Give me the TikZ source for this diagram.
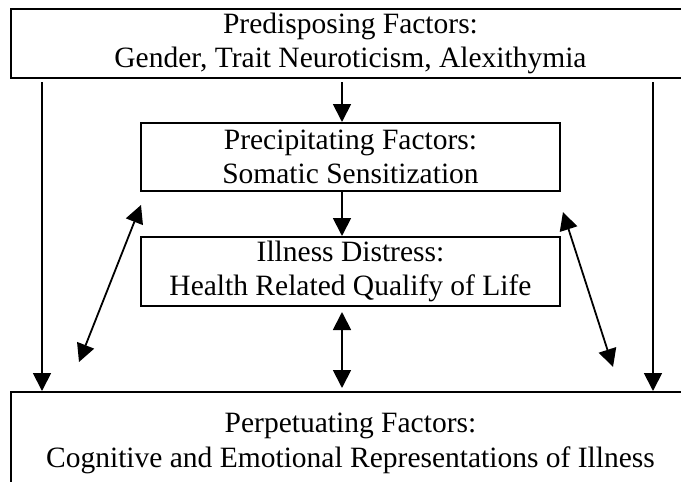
\documentclass[tikz,border=0pt]{standalone}
\usepackage{fontspec}
\setmainfont{Liberation Serif}
\usepackage{tikz}
\usetikzlibrary{positioning,arrows.meta}

\begin{document}
\begin{tikzpicture}[x=1pt, y=-1pt,
  factor/.style={draw, line width=2pt, align=center, inner sep=0pt,
    font=\fontsize{29.5}{34.5}\selectfont},
  link/.style={-{Triangle[length=18pt, width=18pt]}, line width= 1.8pt},
  twoway/.style={{Triangle[length=18pt, width=18pt]}-{Triangle[length=18pt, width=18pt]}, line width= 1.8pt}]

\useasboundingbox (0,0) rectangle (681,482);
\clip (0,0) rectangle (681,482);

% nodes %
\node[factor, minimum width=679pt, minimum height=69pt] (predisp) at (350.5,43.5) {Predisposing Factors:\\Gender, Trait Neuroticism, Alexithymia};
\node[factor, below = 43pt of predisp, minimum width=419pt, minimum height=68pt] (precip) {Precipitating Factors:\\Somatic Sensitization};
\node[factor, below = 44pt of precip, minimum width=419pt, minimum height=69pt] (distress) {Illness Distress:\\Health Related Qualify of Life};
\node[factor, below = 84pt of distress, minimum width=679pt, minimum height=103pt] (perpet) {Perpetuating Factors:\\Cognitive and Emotional Representations of Illness};

\coordinate (lx) at (42,0);
\coordinate (cx) at (342,0);
\coordinate (rx) at (653,0);
\coordinate (ul) at (141,205);
\coordinate (ll) at (79,362);
\coordinate (ur) at (563,212);
\coordinate (lr) at (613,367);

% edges %
\draw[link, shorten <=3pt] (predisp.south -| lx) -- (perpet.north -| lx);
\draw[link, shorten <=3pt] (predisp.south -| rx) -- (perpet.north -| rx);
\draw[link, shorten <=3pt] (predisp.south -| cx) -- (precip.north -| cx);
\draw[link] (precip.south -| cx) -- (distress.north -| cx);
\draw[twoway, shorten <=5pt, shorten >=3pt] (distress.south -| cx) -- (perpet.north -| cx);
\draw[twoway] (ul) -- (ll);
\draw[twoway] (ur) -- (lr);

\end{tikzpicture}
\end{document}
